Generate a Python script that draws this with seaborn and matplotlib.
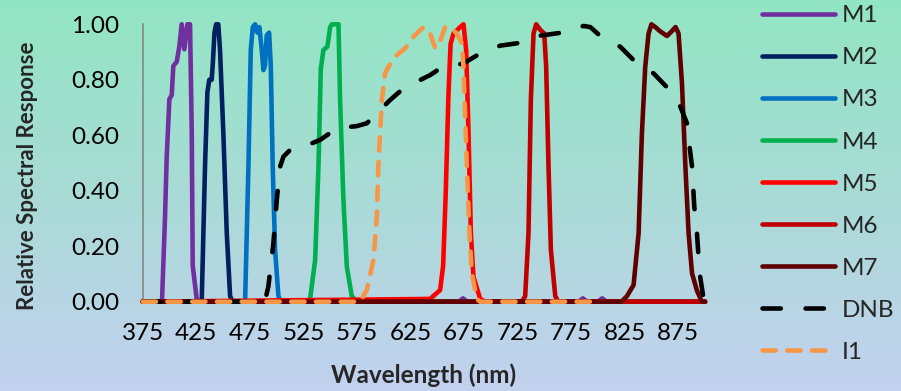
import numpy as np
import pandas as pd
import matplotlib
matplotlib.use("Agg")
import matplotlib.pyplot as plt
import seaborn as sns
from matplotlib.colors import LinearSegmentedColormap

sns.set_theme(style="white")
plt.rcParams['font.family'] = ['Lato', 'DejaVu Sans']

# ---------------- data ----------------
m1_nm = [375, 393, 395.8, 397.4, 399.9, 402.1, 403.6, 406.8, 409.2, 411.4, 413.9, 416.7, 419.2,
         420.8, 421.7, 425.4, 428, 670, 674, 678, 782, 786, 790, 800, 804, 808, 900]
m1_val = [0, 0, 0.30, 0.52, 0.73, 0.745, 0.85, 0.865, 0.92, 1.0, 0.91, 1.0, 1.0,
          0.61, 0.13, 0.01, 0, 0, 0.012, 0, 0, 0.012, 0, 0, 0.012, 0, 0]

m2_nm = [375, 430.1, 433.2, 435.4, 437.2, 439.4, 440.5, 442, 443.5, 445.6, 447.2, 450.3, 453.5, 456.6, 459, 900]
m2_val = [0, 0, 0.49, 0.755, 0.80, 0.80, 0.86, 0.97, 1.0, 1.0, 0.907, 0.607, 0.247, 0.02, 0, 0]

m3_nm = [375, 470.6, 473.7, 475.9, 477.8, 479.9, 482.1, 483.9, 486.2, 487.7, 489.2, 490.8, 493,
         494.6, 496.4, 498.6, 501.7, 504, 900]
m3_val = [0, 0, 0.487, 0.907, 0.99, 1.0, 0.97, 0.99, 0.907, 0.835, 0.85, 0.96, 0.97,
          0.85, 0.487, 0.187, 0.02, 0, 0]

m4_nm = [375, 528, 531.3, 536, 539.1, 541.3, 543.7, 547.5, 550, 551.6, 557.8, 559.3, 562.4,
         565.6, 570.2, 575, 604, 607.6, 611, 900]
m4_val = [0, 0, 0.01, 0.15, 0.487, 0.84, 0.907, 0.92, 0.99, 1.0, 1.0, 0.727, 0.367,
          0.126, 0.02, 0, 0, 0.008, 0, 0]

m5_nm = [375, 643.4, 652.7, 655.5, 658, 660.5, 662.5, 665.2, 671.4, 674.5, 677, 679.2, 681.4,
         683.8, 690.1, 695, 900]
m5_val = [0, 0.01, 0.042, 0.13, 0.40, 0.75, 0.93, 0.967, 0.99, 1.0, 0.907, 0.607, 0.247,
          0.09, 0.01, 0, 0]

m6_nm = [375, 729, 732.1, 735.2, 737.4, 739.9, 742.4, 746.1, 749.9, 751.7, 753.9, 756.1, 760.2, 763, 900]
m6_val = [0, 0, 0.02, 0.246, 0.727, 0.967, 1.0, 0.98, 0.967, 0.847, 0.487, 0.187, 0.02, 0, 0]

m7_nm = [375, 822, 827.1, 833.3, 838, 841.1, 844.2, 847.3, 850, 853.6, 858, 864.5, 869, 872.5,
         875.3, 878.5, 881.7, 884.7, 887.9, 892.5, 897, 900]
m7_val = [0, 0, 0.02, 0.06, 0.246, 0.607, 0.847, 0.967, 1.0, 0.99, 0.975, 0.958, 0.975, 0.99,
          0.967, 0.787, 0.487, 0.246, 0.102, 0.04, 0, 0]

dnb_nm = [375, 489, 492.3, 497, 500.2, 503.3, 506.4, 512.6, 522, 540.6, 556.2, 574.9, 584.2,
          590.4, 606, 618.4, 637.1, 643.4, 652.7, 674.5, 690.1, 708.8, 729, 746.1, 766.4,
          786.6, 792.9, 802.2, 820.9, 833.3, 852, 864.5, 877, 883.2, 885.6, 887.9, 890,
          892.5, 895, 898.7, 900]
dnb_val = [0, 0, 0.054, 0.21, 0.367, 0.487, 0.523, 0.547, 0.554, 0.583, 0.625, 0.633, 0.643,
           0.667, 0.727, 0.769, 0.805, 0.817, 0.841, 0.859, 0.895, 0.923, 0.934, 0.959, 0.97,
           0.994, 0.99, 0.958, 0.919, 0.871, 0.823, 0.773, 0.703, 0.643, 0.559, 0.487, 0.342,
           0.246, 0.102, 0.01, 0]

i1_nm = [375, 578, 584.2, 590.4, 593.6, 595, 598.3, 601.3, 604.4, 612.3, 620, 627.8, 637.1,
         643.4, 648.1, 652.7, 657.4, 662, 668.3, 673, 674.5, 676.1, 677.7, 680.1, 682.3,
         687, 690, 800]
i1_val = [0, 0, 0.042, 0.15, 0.306, 0.487, 0.727, 0.823, 0.847, 0.889, 0.913, 0.955, 0.99,
          0.967, 0.913, 0.94, 0.99, 0.99, 0.967, 0.931, 0.847, 0.667, 0.487, 0.246, 0.102,
          0.01, 0, 0]

names = ["M1", "M2", "M3", "M4", "M5", "M6", "M7", "DNB", "I1"]
colors = ['#7030A0', '#002060', '#0070C0', '#00B050', '#FF0000', '#C00000', '#600000',
          '#000000', '#F79646']

x_ticks = list(range(375, 901, 25))
x_tick_labels = [str(v) if (v - 375) % 50 == 0 and v < 900 else '' for v in x_ticks]
y_ticks = [0.0, 0.2, 0.4, 0.6, 0.8, 1.0]
y_tick_labels = ['0.00', '0.20', '0.40', '0.60', '0.80', '1.00']

# ---------------- figure ----------------
W, H = 901, 391
fig = plt.figure(figsize=(W / 100, H / 100), dpi=100)

bg = fig.add_axes([0, 0, 1, 1], zorder=-10)
grad = np.linspace(0, 1, 256).reshape(-1, 1)
cmap = LinearSegmentedColormap.from_list('bg', ['#92E6C4', '#A9DBD6', '#C3D1EF'])
bg.imshow(grad, aspect='auto', cmap=cmap, extent=[0, 1, 0, 1], origin='upper')
bg.axis('off')

ax = fig.add_axes([142.7 / W, 1 - 301.7 / H, (705 - 142.7) / W, 277.4 / H])
ax.set_facecolor('none')

LW = 3.3
xs = [m1_nm, m2_nm, m3_nm, m4_nm, m5_nm, m6_nm, m7_nm, dnb_nm, i1_nm]
ys = [m1_val, m2_val, m3_val, m4_val, m5_val, m6_val, m7_val, dnb_val, i1_val]
for i, (name, x, y, c) in enumerate(zip(names, xs, ys, colors)):
    df = pd.DataFrame({'nm': x, 'val': y})
    kw = dict(solid_joinstyle='round', solid_capstyle='round')
    if name == 'DNB':
        kw = dict(linestyle=(0, (4.0, 5.4)), dash_capstyle='round', dash_joinstyle='round')
    elif name == 'I1':
        kw = dict(linestyle=(0, (2.9, 2.5)), dash_capstyle='round', dash_joinstyle='round')
    sns.lineplot(data=df, x='nm', y='val', ax=ax, color=c, lw=LW, label=name,
                 estimator=None, sort=False, clip_on=False, zorder=2 + i, **kw)

ax.set_xlim(375, 900)
ax.set_ylim(0, 1)
ax.set_xticks(x_ticks)
ax.set_xticklabels(x_tick_labels)
ax.set_yticks(y_ticks)
ax.set_yticklabels(y_tick_labels)
ax.tick_params(axis='both', direction='out', length=6, width=1.2, color='#868686',
               labelsize=17.5, labelcolor='black')
ax.tick_params(axis='y', pad=11)
ax.tick_params(axis='x', pad=9)
sns.despine(ax=ax)
for s in ['left', 'bottom']:
    ax.spines[s].set_color('#868686')
    ax.spines[s].set_linewidth(1.2)
ax.set_xlabel('')
ax.set_ylabel('')

fig.text(424 / W, 1 - 383 / H, 'Wavelength (nm)', fontsize=17.5, fontweight='bold',
         ha='center', va='baseline')
fig.text(27.5 / W, 1 - 175.5 / H, 'Relative Spectral Response', fontsize=16,
         fontweight='bold', rotation=90, ha='center', va='center')

handles, labels = ax.get_legend_handles_labels()
if ax.get_legend() is not None:
    ax.get_legend().remove()
fig.legend(handles, labels, loc='upper left', bbox_to_anchor=(762 / W, 1 - 5.4 / H),
           frameon=False, fontsize=17.5, handlelength=3.0, handletextpad=0.3,
           labelspacing=0.865, borderpad=0, borderaxespad=0)

fig.savefig('out.png', dpi=100)
